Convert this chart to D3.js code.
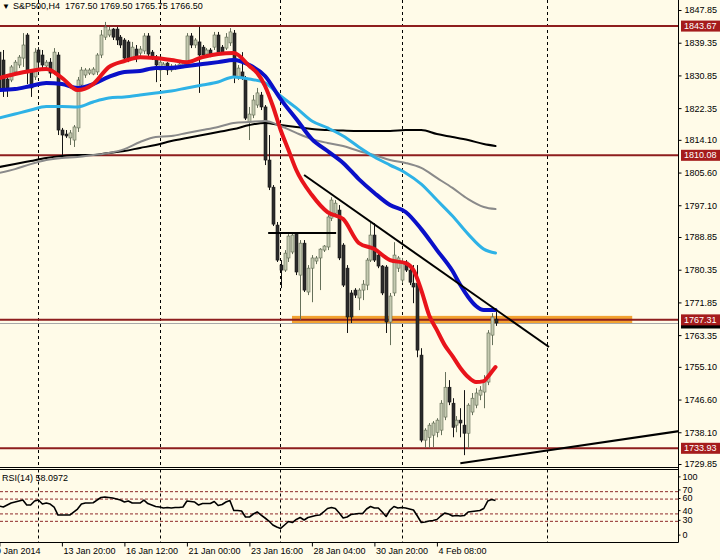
<!DOCTYPE html>
<html><head><meta charset="utf-8">
<script src="https://cdn.jsdelivr.net/npm/d3@7/dist/d3.min.js"></script>
<style>
html,body{margin:0;padding:0;background:#FFFBE8;}
svg{display:block;}
text{font-family:"Liberation Sans",Arial,sans-serif;font-size:9px;fill:#000;}
</style></head><body>
<svg id="c" width="720" height="560"></svg>
<script>
// ---------------- DATA ----------------
const symbolTitle = "S&P500,H4";
const lastOHLC = ["1767.50","1769.50","1765.75","1766.50"];
// candles: [open, high, low, close], H4 bars
const candles = [
[1836.9,1838.75,1825.75,1827.6],[1834.85,1837.45,1825.25,1827.05],[1829.9,1830.7,1825.25,1827.6],[1829.65,1833.55,1829.1,1833.05],
[1831.75,1834.85,1830.95,1834.3],[1833.55,1836.15,1832.75,1835.6],[1835.35,1841.85,1833.05,1838.75],[1841.35,1841.85,1828.6,1831.75],
[1831.75,1832.25,1825.25,1827.6],[1830.45,1837.95,1829.65,1836.9],[1837.45,1838.2,1832.75,1834.3],[1836.15,1837.45,1832.25,1833.55],
[1833.3,1834.85,1832.75,1834.3],[1834.3,1835.35,1830.2,1831.45],[1831.75,1837.95,1830.95,1836.9],[1836.15,1836.9,1815.35,1816.65],
[1816.65,1817.2,1809.6,1815.35],[1815.6,1816.65,1814.6,1815.1],[1814.6,1816.65,1812.75,1815.9],[1814.05,1817.95,1812.25,1817.45],
[1817.2,1830.45,1816.15,1829.65],[1828.35,1833.05,1827.6,1832.25],[1830.95,1832.75,1830.2,1832.25],[1831.45,1832.75,1830.95,1832.25],
[1831.2,1833.0,1830.9,1832.5],[1831.75,1836.65,1830.95,1836.15],[1836.15,1842.65,1835.35,1841.35],[1840.8,1844.75,1840.05,1843.45],
[1841.35,1843.45,1840.8,1842.65],[1842.9,1843.15,1840.05,1840.8],[1842.9,1843.45,1838.75,1840.05],[1840.8,1841.35,1837.95,1838.75],
[1840.05,1840.55,1834.3,1835.35],[1839.55,1840.05,1834.3,1835.35],[1835.6,1839.55,1834.85,1838.2],[1837.7,1838.75,1834.3,1835.35],
[1836.65,1838.5,1835.9,1837.7],[1837.2,1841.85,1836.4,1841.1],[1841.1,1841.85,1835.35,1836.4],[1836.9,1837.45,1834.85,1835.6],
[1835.6,1836.15,1829.1,1833.55],[1832.25,1834.85,1829.65,1834.3],[1833.05,1834.3,1832.25,1833.8],[1834.05,1834.3,1830.95,1832.25],
[1832.25,1833.8,1831.75,1833.3],[1832.75,1833.8,1832.25,1833.3],[1833.05,1834.3,1832.75,1833.8],[1833.3,1834.3,1832.75,1834.05],
[1833.55,1841.85,1833.05,1841.1],[1841.1,1841.85,1837.95,1838.75],[1838.75,1840.55,1837.95,1840.05],[1839.55,1843.45,1826.3,1836.15],
[1838.2,1838.75,1835.6,1836.15],[1836.4,1837.95,1835.9,1837.45],[1837.45,1837.95,1835.6,1836.4],[1838.2,1842.15,1837.45,1841.35],
[1841.35,1842.15,1836.15,1836.9],[1838.2,1838.75,1836.15,1836.9],[1837.95,1841.85,1837.45,1840.8],[1839.3,1843.15,1838.5,1842.15],
[1841.85,1842.65,1828.85,1830.45],[1830.2,1833.55,1829.65,1832.75],[1831.75,1836.9,1829.65,1830.2],[1830.2,1830.7,1819.25,1819.75],
[1818.7,1822.65,1814.05,1820.8],[1820.55,1825.75,1819.75,1824.45],[1823.15,1827.6,1822.4,1826.3],[1825.75,1826.55,1821.85,1822.65],
[1822.65,1823.15,1807.55,1808.85],[1808.85,1815.35,1801.05,1801.8],[1801.8,1802.35,1791.7,1792.2],[1791.95,1792.75,1782.35,1782.85],
[1781.55,1782.85,1775.55,1780.25],[1780.25,1785.45,1779.75,1784.65],[1783.4,1789.6,1782.35,1789.1],[1784.95,1790.1,1784.4,1789.35],
[1789.6,1790.1,1778.95,1779.75],[1778.95,1788.05,1767.25,1787.25],[1787.25,1788.05,1774.55,1775.05],[1774.55,1781.55,1773.75,1780.75],
[1780.75,1784.15,1771.9,1783.4],[1782.6,1783.9,1781.8,1783.4],[1783.4,1785.95,1775.05,1785.7],[1785.45,1786.75,1784.95,1786.5],
[1786.25,1794.55,1785.45,1794.05],[1793.75,1799.2,1793.0,1798.45],[1795.05,1798.45,1794.55,1797.65],[1795.85,1797.15,1782.85,1783.4],
[1786.75,1787.25,1775.85,1776.35],[1780.75,1781.55,1763.9,1768.05],[1774.3,1775.05,1766.5,1768.05],[1775.05,1775.55,1773.0,1773.75],
[1773.0,1775.55,1769.85,1775.05],[1775.05,1777.65,1772.45,1776.6],[1776.35,1783.4,1775.05,1782.85],[1782.85,1792.75,1782.35,1789.35],
[1789.35,1792.45,1782.35,1782.85],[1784.15,1784.95,1780.75,1781.3],[1781.3,1781.55,1773.75,1774.3],[1781.05,1781.55,1763.9,1766.75],
[1766.75,1774.3,1760.75,1773.5],[1774.3,1787.5,1773.5,1784.15],[1780.75,1783.9,1779.75,1783.4],[1777.65,1783.4,1776.85,1782.35],
[1782.35,1782.85,1779.75,1780.25],[1780.25,1781.55,1776.35,1777.1],[1776.85,1781.55,1771.65,1775.85],[1776.85,1781.55,1757.6,1759.45],
[1758.15,1759.95,1735.5,1736.05],[1736.05,1739.15,1734.0,1738.65],[1736.8,1740.5,1734.0,1739.95],[1737.35,1741.0,1734.25,1740.5],
[1738.1,1741.75,1736.8,1741.25],[1738.65,1746.45,1737.35,1745.65],[1742.05,1753.75,1741.25,1749.8],[1749.8,1751.65,1745.15,1745.95],
[1745.65,1746.95,1736.8,1739.4],[1739.95,1742.3,1738.1,1741.25],[1741.25,1744.35,1736.8,1740.5],[1739.95,1749.05,1732.15,1737.85],
[1737.85,1745.65,1734.0,1745.15],[1743.35,1748.3,1742.55,1746.95],[1745.15,1749.55,1744.35,1748.3],[1747.75,1750.1,1746.45,1749.05],
[1748.55,1752.95,1744.35,1751.65],[1751.15,1764.65,1750.35,1763.9],[1763.35,1769.05,1760.75,1768.05],[1767.5,1769.5,1765.75,1766.5]
];

// moving averages, values read at these bar indices
const maBars = [0,4,8,12,16,20,24,28,32,36,40,44,48,52,56,60,64,68,72,76,80,84,88,92,96,100,104,108,112,116,120,124,127];
const redBars = [0,4,8,12,16,20,24,28,32,36,40,44,48,52,56,60,64,66,68,70,72,74,76,80,84,88,92,96,100,104,106,108,110,112,114,116,118,120,122,124,125,126,127];
const redMA = [1830.17,1831.21,1832.0,1832.5,1830.2,1827.05,1828.6,1833.0,1834.6,1835.6,1835.35,1834.85,1834.3,1835.6,1836.4,1836.65,1833.3,1831.45,1828.1,1822.9,1816.65,1811.45,1806.25,1799.75,1795.3,1793.5,1787.3,1785.7,1782.85,1782.05,1780.25,1775.05,1768.55,1764.65,1760.75,1757.9,1754.8,1752.45,1751.15,1751.4,1752.45,1753.75,1755.05];
const blueBars = [0,4,8,12,16,20,24,28,32,36,40,44,48,52,56,60,64,68,72,76,80,84,88,92,96,100,104,108,112,116,118,120,122,124,127];
const blueMA = [1827.05,1827.3,1828.1,1828.9,1828.6,1827.6,1828.6,1830.45,1831.75,1832.0,1832.8,1832.8,1833.3,1833.8,1834.3,1834.85,1833.55,1830.7,1824.7,1819.5,1814.3,1811.2,1808.1,1803.9,1800.3,1797.15,1795.35,1790.9,1785.45,1780.0,1776.35,1773.25,1770.9,1769.85,1769.85];
const cyanMA = [1819.8,1820.8,1821.85,1822.75,1822.75,1822.65,1823.95,1824.95,1825.25,1825.75,1826.3,1826.8,1827.6,1828.35,1829.15,1830.45,1829.9,1828.9,1825.5,1822.4,1819.0,1817.2,1815.1,1812.25,1809.65,1807.55,1805.5,1802.6,1798.45,1794.3,1789.6,1785.7,1784.7];
const grayMA = [1805.5,1806.5,1807.8,1808.85,1809.4,1809.65,1810.15,1810.7,1811.7,1813.55,1814.85,1815.1,1815.9,1816.65,1817.45,1818.5,1818.75,1819.0,1817.7,1815.9,1814.3,1813.3,1812.5,1811.2,1810.15,1808.85,1808.1,1806.8,1804.2,1801.6,1798.7,1796.65,1796.1];
const blackMA = [1807.05,1807.8,1808.6,1809.4,1809.9,1810.15,1810.15,1810.7,1811.2,1812.0,1812.75,1813.8,1814.6,1815.35,1816.15,1816.9,1817.95,1818.5,1817.95,1817.45,1816.9,1816.65,1816.5,1816.4,1816.4,1816.4,1816.65,1816.65,1815.6,1814.85,1814.05,1813.0,1812.5];

// RSI(14) per bar
const rsi = [50.6,49.3,52,54.7,56,57.4,58.7,52,52,57.4,58.7,53.3,54.7,53.3,49.3,38.5,38.5,38.5,38.5,42.5,
46.6,53.3,54.7,54.7,55.1,58.7,62.1,62.8,62.1,61.4,60.1,58.7,56,57.4,54.7,54.7,54.7,58.7,54,52,
50,49.3,47.9,48.6,47.9,48.6,48.6,49.3,57.4,56.7,56,52,54,54,54,56.7,51.3,52.7,56,58,
44.6,44.6,43.9,35.8,35.8,39.9,42.6,38.5,34.5,30.4,25.1,22.4,20.4,25.1,29.8,28.4,32.5,35.2,31.8,35.2,
36.5,37.8,38.5,42.6,47.3,48.6,47.3,41.2,34.5,35.8,39.2,39.9,40.5,40.5,46.6,50,47.9,47.9,42.6,36.5,
45.3,50,47.9,48.6,47.9,46.6,45.3,37.2,28.4,29.1,30.4,31.1,32.5,37.2,41.2,39.9,37.2,37.8,37.2,37.8,
42.6,43.2,43.9,44.6,47.3,57.4,59.4,58.1];
const rsiLast = "58.0972";
const rsiLevels = [70,60,40,30];
const rsiAxisTicks = [100,70,60,40,30,0];

// horizontal levels and drawn objects
const levels = [1843.67,1810.08,1767.31,1733.93];
const bidPrice = 1766.50;
const trendDown = [[78,1804.95],[140.7,1760.25]];
const trendUp = [[118,1730.05],[174,1738.4]];
const flatSegment = [[68.8,1789.9],[86.2,1789.9]];
const zone = {from:74.9, to:162, price:1767.31};

// axes
const priceTicks = [1847.85,1839.35,1830.85,1822.35,1814.10,1805.60,1797.10,1788.85,1780.35,1771.85,1763.35,1755.10,1746.60,1738.10,1729.85];
const timeBars = [0,16,32,48,64,80,96,112];
const timeLabels = ["9 Jan 2014","13 Jan 20:00","16 Jan 12:00","21 Jan 00:00","23 Jan 16:00","28 Jan 04:00","30 Jan 20:00","4 Feb 08:00"];
const gridBars = [9.8,41.0,71.8,103.1,140.2];

// ---------------- DRAW ----------------
const W=720,H=560, R=678.5, mainBottom=467.5, rsiTop=469.5, rsiBottom=542.5;
const bg="#FFFBE8";
const svg=d3.select("#c");
svg.append("rect").attr("width",W).attr("height",H).attr("fill",bg);

const x=d3.scaleLinear().domain([0,127]).range([-0.6,495.5]);
const y=d3.scaleLinear().domain([1847.85,1729.85]).range([10,464]);
const yr=d3.scaleLinear().domain([100,0]).range([469.4,543.6]);

const defs=svg.append("defs");
defs.append("clipPath").attr("id","cm").append("rect").attr("x",0).attr("y",0).attr("width",R).attr("height",mainBottom);
defs.append("clipPath").attr("id","cr").append("rect").attr("x",0).attr("y",rsiTop).attr("width",R).attr("height",rsiBottom-rsiTop);

// vertical grid
const grid=svg.append("g");
gridBars.forEach(b=>{
  const gx=Math.round(x(b))+0.5;
  grid.append("line").attr("x1",gx).attr("x2",gx).attr("y1",0).attr("y2",mainBottom)
    .attr("stroke","#000").attr("stroke-width",1).attr("stroke-dasharray","3,3");
  grid.append("line").attr("x1",gx).attr("x2",gx).attr("y1",rsiTop).attr("y2",rsiBottom)
    .attr("stroke","#000").attr("stroke-width",1).attr("stroke-dasharray","3,3");
});

const main=svg.append("g").attr("clip-path","url(#cm)");

// zone band
main.append("rect").attr("x",x(zone.from)).attr("width",x(zone.to)-x(zone.from))
  .attr("y",y(zone.price)-4).attr("height",8).attr("fill","#F2A231");
// bid line
main.append("line").attr("x1",0).attr("x2",R).attr("y1",Math.round(y(bidPrice))+0.5).attr("y2",Math.round(y(bidPrice))+0.5)
  .attr("stroke","#A8A8A8").attr("stroke-width",1);
// levels
levels.forEach(p=>{
  main.append("line").attr("x1",0).attr("x2",R).attr("y1",y(p)).attr("y2",y(p))
    .attr("stroke","#8E1E1E").attr("stroke-width",2);
});

// candles
const cg=main.append("g");
candles.forEach((c,i)=>{
  const [o,h,l,cl]=c;
  const cx=Math.round(x(i));
  const bull=cl>=o;
  cg.append("line").attr("x1",cx+0.5).attr("x2",cx+0.5).attr("y1",y(h)).attr("y2",y(l))
    .attr("stroke",bull?"#66705A":"#151515").attr("stroke-width",1);
  const top=y(Math.max(o,cl)), bot=y(Math.min(o,cl));
  cg.append("rect").attr("x",cx-1).attr("width",3).attr("y",top).attr("height",Math.max(1,bot-top))
    .attr("fill",bull?"#C4C9B0":"#2B2B2B").attr("stroke",bull?"#5E6850":"#151515").attr("stroke-width",0.6);
});

// moving averages
function maLine(bars,vals,color,w){
  const pts=bars.map((b,k)=>[x(b),y(vals[k])]);
  main.append("path").attr("d",d3.line().curve(d3.curveMonotoneX)(pts))
    .attr("fill","none").attr("stroke",color).attr("stroke-width",w).attr("stroke-linejoin","round").attr("stroke-linecap","round");
}
maLine(maBars,blackMA,"#000000",2);
maLine(maBars,grayMA,"#8A8A8A",2);
maLine(maBars,cyanMA,"#2EB2E6",3);
maLine(blueBars,blueMA,"#0A10C8",4);
maLine(redBars,redMA,"#E8141B",4);

// trend objects
function seg(p,color,w){
  main.append("line").attr("x1",x(p[0][0])).attr("y1",y(p[0][1])).attr("x2",x(p[1][0])).attr("y2",y(p[1][1]))
   .attr("stroke",color).attr("stroke-width",w);
}
seg(trendDown,"#000",2);
seg(trendUp,"#000",2);
seg(flatSegment,"#000",2);

// frames
const fr=svg.append("g").attr("stroke","#000").attr("stroke-width",1);
fr.append("line").attr("x1",R).attr("x2",R).attr("y1",0).attr("y2",rsiBottom);
fr.append("line").attr("x1",0).attr("x2",R).attr("y1",mainBottom).attr("y2",mainBottom);
fr.append("line").attr("x1",0).attr("x2",R).attr("y1",rsiTop).attr("y2",rsiTop);
fr.append("line").attr("x1",0).attr("x2",R).attr("y1",rsiBottom).attr("y2",rsiBottom);

// price axis
const pa=svg.append("g").attr("transform",`translate(${R},0)`)
  .call(d3.axisRight(y).tickValues(priceTicks).tickSize(3).tickPadding(3).tickFormat(d=>d.toFixed(2)));
pa.select(".domain").remove();
pa.selectAll("text").attr("font-family","Liberation Sans, Arial, sans-serif").attr("font-size",9).attr("fill","#000");
pa.selectAll("line").attr("stroke","#000");

// level labels
const lab=svg.append("g");
lab.append("rect").attr("x",681).attr("y",y(bidPrice)-5.5).attr("width",39).attr("height",11).attr("fill","#000");
levels.forEach(p=>{
  lab.append("rect").attr("x",681).attr("y",y(p)-5.5).attr("width",39).attr("height",11).attr("fill","#A51C1C");
  lab.append("text").attr("x",684).attr("y",y(p)).attr("dy","0.35em").style("fill","#fff").text(p.toFixed(2));
});

// title
svg.append("text").attr("x",2).attr("y",9).style("font-size","8px").text("▼");
svg.append("text").attr("x",13).attr("y",9).attr("xml:space","preserve")
  .text(symbolTitle+"  "+lastOHLC.join(" "));

// RSI panel
const rg=svg.append("g").attr("clip-path","url(#cr)");
rsiLevels.forEach(v=>{
  rg.append("line").attr("x1",0).attr("x2",R).attr("y1",yr(v)).attr("y2",yr(v))
   .attr("stroke","#8E2A2A").attr("stroke-width",1).attr("stroke-dasharray","3,2");
});
rg.append("path").attr("d",d3.line()(rsi.map((v,i)=>[x(i),yr(v)])))
  .attr("fill","none").attr("stroke","#000").attr("stroke-width",1.6).attr("stroke-linejoin","round");
svg.append("text").attr("x",2).attr("y",481).text("RSI(14) "+rsiLast);

const rsiLabelShift = {100:7.5, 70:-1.7, 60:-0.6, 40:-3.3, 30:-1.0, 0:-8.5};
const ra=svg.append("g").attr("transform",`translate(${R},0)`)
  .call(d3.axisRight(yr).tickValues(rsiAxisTicks).tickSize(2).tickPadding(2).tickFormat(d3.format("d")));
ra.select(".domain").remove();
ra.selectAll("text").attr("font-size",7).attr("font-family","Liberation Sans, Arial, sans-serif").attr("fill","#000");
ra.selectAll(".tick").attr("transform",d=>`translate(0,${yr(d)+rsiLabelShift[d]})`);

// time axis
const ta=svg.append("g").attr("transform",`translate(0,${rsiBottom})`)
  .call(d3.axisBottom(x).tickValues(timeBars).tickSize(4).tickPadding(1).tickFormat((d,i)=>timeLabels[i]));
ta.select(".domain").remove();
ta.selectAll("line").attr("stroke","#000");
ta.selectAll("text").attr("text-anchor","start").attr("x",(d,i)=>i===0?-4:1)
  .attr("font-size",9).attr("font-family","Liberation Sans, Arial, sans-serif").attr("fill","#000");
</script>
</body></html>
